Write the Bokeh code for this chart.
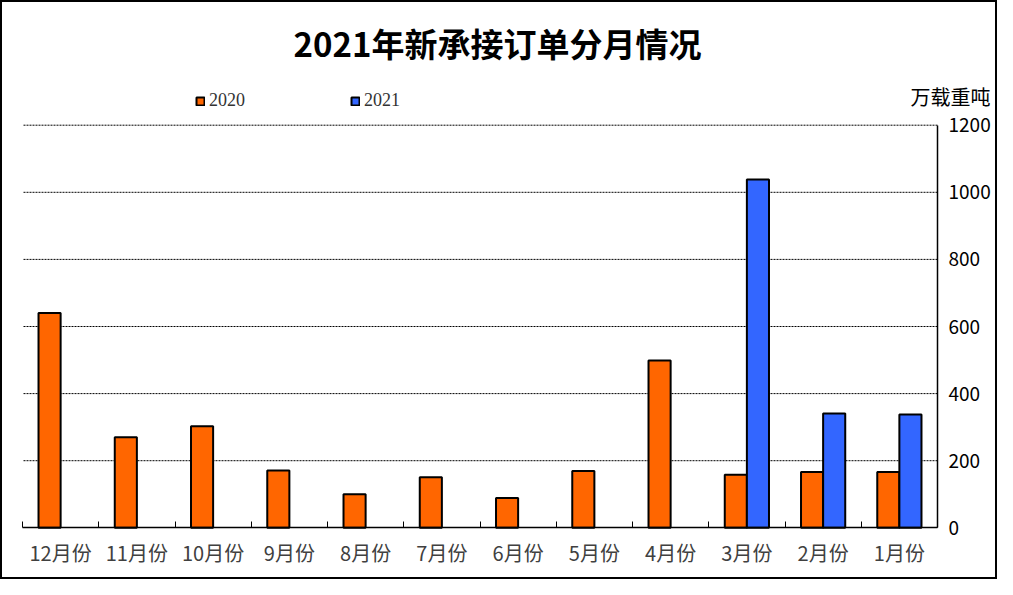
from bokeh.plotting import figure
from bokeh.models import (FixedTicker, Label, Legend, LegendItem, ColumnDataSource,
                          Range1d, LinearAxis)
from bokeh.embed import file_html
from bokeh.resources import INLINE

# ---- data ----
months = ["1月份", "2月份", "3月份", "4月份", "5月份", "6月份",
          "7月份", "8月份", "9月份", "10月份", "11月份", "12月份"]
v2020 = [166, 166, 158, 499, 169, 89, 151, 100, 171, 303, 270, 640]
months_2021 = ["1月份", "2月份", "3月份"]
v2021 = [338, 341, 1038]
y_ticks = [0, 200, 400, 600, 800, 1000, 1200]
title_text = "2021年新承接订单分月情况"
unit_text = "万载重吨"

ORANGE = "#FF6600"
BLUE = "#3366FF"

# ---- layout (pixels) ----
W, H = 997, 579
PLOT_L, PLOT_R = 22, 937        # screen x of the value-axis extent
PLOT_T, PLOT_B = 124.7, 527.3   # screen y of y_max / 0

n = len(months)
y_max = y_ticks[-1]
px_per_x = (PLOT_R - PLOT_L) / n
px_per_y = (PLOT_B - PLOT_T) / y_max
x_range = Range1d(n + PLOT_L / px_per_x, -(W - PLOT_R) / px_per_x)   # reversed: 1月 on the right
y_range = Range1d(-(H - PLOT_B) / px_per_y, y_max + PLOT_T / px_per_y)

centers = [i + 0.5 for i in range(n)]
idx = {m: i for i, m in enumerate(months)}
src20 = ColumnDataSource(dict(x=[c + 0.145 for c in centers], top=v2020))
src21 = ColumnDataSource(dict(x=[centers[idx[m]] - 0.145 for m in months_2021], top=v2021))
grid_src = ColumnDataSource(dict(y=y_ticks[1:], x0=[0] * (len(y_ticks) - 1),
                                 x1=[n] * (len(y_ticks) - 1)))

p = figure(width=W, height=H, output_backend="svg", toolbar_location=None,
           x_range=x_range, y_range=y_range,
           x_axis_location=None, y_axis_location=None, min_border=0)
p.outline_line_color = "black"
p.outline_line_width = 3
p.background_fill_color = "white"
p.border_fill_color = "white"
p.grid.visible = False

# dashed gridlines
p.segment(x0="x0", x1="x1", y0="y", y1="y", source=grid_src,
          line_color="black", line_dash="2 1", line_width=1)

r20 = p.vbar(x="x", top="top", width=0.29, source=src20,
             fill_color=ORANGE, line_color="black", line_width=2)
r21 = p.vbar(x="x", top="top", width=0.29, source=src21,
             fill_color=BLUE, line_color="black", line_width=2)

# x axis
xa = LinearAxis(fixed_location=0, bounds=(0, n))
xa.ticker = FixedTicker(ticks=centers, minor_ticks=list(range(n + 1)))
xa.major_label_overrides = {c: m for c, m in zip(centers, months)}
xa.major_tick_in = 0
xa.major_tick_out = 0
xa.minor_tick_in = 6
xa.minor_tick_out = 0
xa.minor_tick_line_color = "black"
xa.axis_line_color = "black"
xa.axis_line_width = 1.5
xa.major_label_text_font = "Noto Sans CJK SC"
xa.major_label_text_font_size = "20px"
xa.major_label_text_color = "#404040"
xa.major_label_standoff = 10
p.add_layout(xa, "below")

# y axis (right side)
ya = LinearAxis(fixed_location=0, bounds=(0, y_max))
ya.ticker = FixedTicker(ticks=y_ticks, minor_ticks=[])
ya.major_tick_in = 0
ya.major_tick_out = 0
ya.axis_line_color = "black"
ya.axis_line_width = 1.5
ya.major_label_text_font = "Noto Sans CJK SC"
ya.major_label_text_font_size = "19px"
ya.major_label_text_color = "black"
ya.major_label_standoff = 11
p.add_layout(ya, "right")

# title
p.add_layout(Label(x=497, y=H - 42, x_units="screen", y_units="screen", text=title_text,
                   text_font="Noto Sans CJK SC", text_font_size="33px", text_font_style="bold",
                   text_align="center", text_baseline="middle", text_color="black"))
# unit
p.add_layout(Label(x=990, y=H - 96, x_units="screen", y_units="screen", text=unit_text,
                   text_font="Noto Sans CJK SC", text_font_size="20px",
                   text_align="right", text_baseline="middle", text_color="black"))

legend = Legend(items=[LegendItem(label="2020", renderers=[r20]),
                       LegendItem(label="2021", renderers=[r21])],
                location=(195, H - 111), orientation="horizontal",
                glyph_width=10, glyph_height=10, label_standoff=4, spacing=105,
                padding=0, margin=0, border_line_color=None, background_fill_alpha=0,
                label_text_font="Liberation Serif", label_text_font_size="18px",
                label_height=17, label_text_color="#333333")
p.add_layout(legend, "center")

open("out.html", "w").write(file_html(p, INLINE))
